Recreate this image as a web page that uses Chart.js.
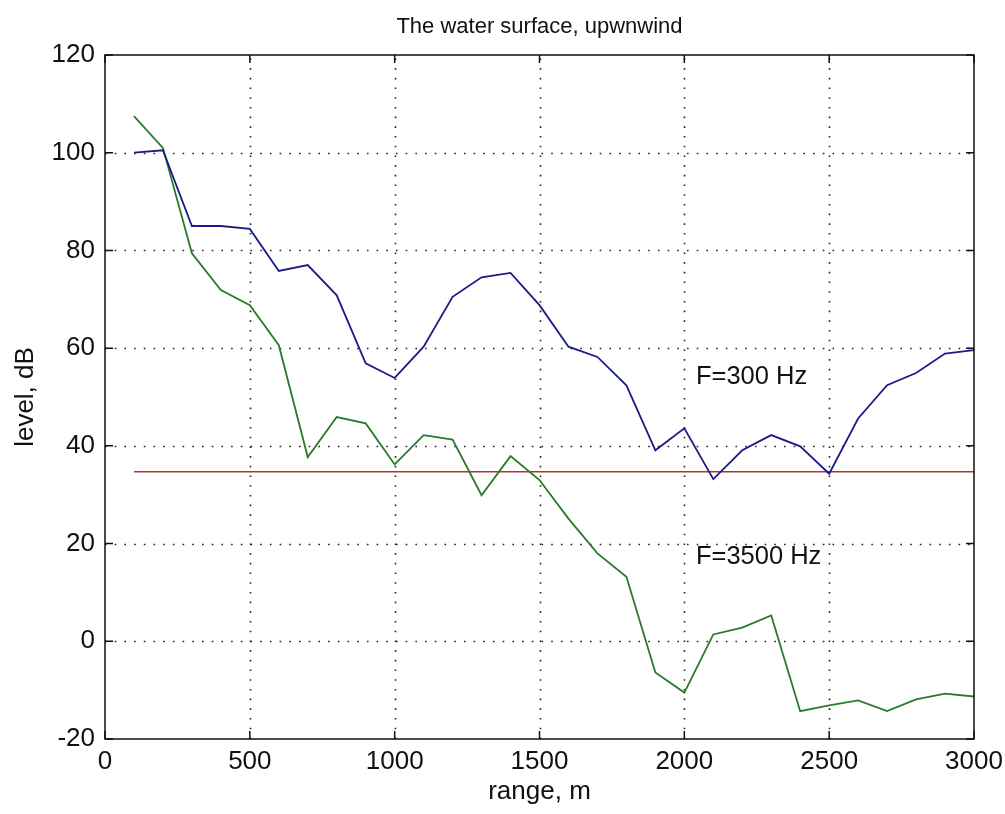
<!DOCTYPE html>
<html>
<head>
<meta charset="utf-8">
<title>The water surface, upwnwind</title>
<script src="https://cdn.jsdelivr.net/npm/chart.js@4.4.1/dist/chart.umd.min.js"></script>
<style>
  html, body { margin: 0; padding: 0; background: #fff; }
  canvas { display: block; }
</style>
</head>
<body>
<canvas id="levelChart" width="1005" height="814"></canvas>
<script>
// range along the surface, m
const rangeM = [100, 200, 300, 400, 500, 600, 700, 800, 900, 1000,
  1100, 1200, 1300, 1400, 1500, 1600, 1700, 1800, 1900, 2000,
  2100, 2200, 2300, 2400, 2500, 2600, 2700, 2800, 2900, 3000];

// level at 300 Hz, dB
const level300 = [100, 100.5, 85, 85, 84.4, 75.8, 77, 70.8, 56.9, 53.9,
  60.3, 70.5, 74.5, 75.4, 68.8, 60.3, 58.2, 52.4, 39.1, 43.6,
  33.2, 39.1, 42.2, 39.9, 34.3, 45.6, 52.4, 54.9, 58.9, 59.6];

// level at 3500 Hz, dB
const level3500 = [107.5, 101, 79.4, 71.9, 68.8, 60.6, 37.7, 45.9, 44.6, 36.2,
  42.2, 41.3, 29.9, 37.9, 33, 25.1, 18, 13.2, -6.4, -10.5,
  1.4, 2.8, 5.3, -14.3, -13.1, -12.1, -14.3, -11.9, -10.7, -11.3];

// threshold level, dB
const thresholdRange = [100, 3000];
const thresholdLevel = [34.7, 34.7];

// curve captions: [range, level, text]
const captions = [
  [2040, 54.2, "F=300 Hz"],
  [2040, 17.2, "F=3500 Hz"]
];

const FONT = '"Liberation Sans Narrow", "Arial Narrow", "Liberation Sans", sans-serif';

const toPoints = (xs, ys) => xs.map((x, i) => ({ x: x, y: ys[i] }));

// grid, box, inward ticks and captions in MATLAB style
const matlabAxes = {
  id: "matlabAxes",
  beforeDatasetsDraw(chart) {
    const { ctx, chartArea: a, scales: { x, y } } = chart;
    ctx.save();
    ctx.strokeStyle = "#222";
    ctx.lineWidth = 1.6;
    ctx.setLineDash([1.6, 8.1]);
    x.ticks.forEach((t) => {
      const px = Math.round(x.getPixelForValue(t.value)) + 0.5;
      if (px <= a.left + 2 || px >= a.right - 2) return;
      ctx.beginPath();
      ctx.moveTo(px, a.bottom);
      ctx.lineTo(px, a.top);
      ctx.stroke();
    });
    y.ticks.forEach((t) => {
      const py = Math.round(y.getPixelForValue(t.value)) + 0.5;
      if (py <= a.top + 2 || py >= a.bottom - 2) return;
      ctx.beginPath();
      ctx.moveTo(a.left, py);
      ctx.lineTo(a.right, py);
      ctx.stroke();
    });
    ctx.restore();
  },
  afterDatasetsDraw(chart) {
    const { ctx, chartArea: a, scales: { x, y } } = chart;
    ctx.save();
    ctx.strokeStyle = "#111";
    ctx.lineWidth = 1.5;
    ctx.strokeRect(a.left, a.top, a.right - a.left, a.bottom - a.top);

    const tick = 8;
    ctx.beginPath();
    x.ticks.forEach((t) => {
      const px = x.getPixelForValue(t.value);
      ctx.moveTo(px, a.bottom); ctx.lineTo(px, a.bottom - tick);
      ctx.moveTo(px, a.top); ctx.lineTo(px, a.top + tick);
    });
    y.ticks.forEach((t) => {
      const py = y.getPixelForValue(t.value);
      ctx.moveTo(a.left, py); ctx.lineTo(a.left + tick, py);
      ctx.moveTo(a.right, py); ctx.lineTo(a.right - tick, py);
    });
    ctx.stroke();

    ctx.fillStyle = "#111";
    ctx.font = "25.5px " + FONT;
    ctx.textAlign = "left";
    ctx.textBaseline = "middle";
    captions.forEach(([cx, cy, text]) => {
      ctx.fillText(text, x.getPixelForValue(cx), y.getPixelForValue(cy));
    });
    ctx.restore();
  }
};

new Chart(document.getElementById("levelChart"), {
  type: "line",
  data: {
    datasets: [
      {
        label: "F=300 Hz",
        data: toPoints(rangeM, level300),
        borderColor: "#1c1c86",
        borderWidth: 1.8,
        pointRadius: 0,
        tension: 0,
      },
      {
        label: "F=3500 Hz",
        data: toPoints(rangeM, level3500),
        borderColor: "#2b7a2b",
        borderWidth: 1.8,
        pointRadius: 0,
        tension: 0,
      },
      {
        label: "threshold",
        data: toPoints(thresholdRange, thresholdLevel),
        borderColor: "#b8302c",
        borderWidth: 1.6,
        pointRadius: 0,
      },
    ],
  },
  options: {
    responsive: false,
    animation: false,
    layout: { padding: { left: 10, right: 31, top: 0, bottom: 0 } },
    scales: {
      x: {
        type: "linear",
        min: 0,
        max: 3000,
        ticks: {
          stepSize: 500,
          color: "#111",
          font: { family: FONT, size: 26 },
          padding: 7,
          maxRotation: 0,
          callback: (v) => String(v),
        },
        grid: { display: false, drawTicks: false },
        border: { display: false },
        title: {
          display: true,
          text: "range, m",
          color: "#111",
          font: { family: FONT, size: 26 },
          padding: { top: 0, bottom: 7 },
        },
        afterFit: (s) => {
          s.height = 75;
          s.paddingLeft = 0;
          s.paddingRight = 0;
        },
      },
      y: {
        min: -20,
        max: 120,
        ticks: {
          stepSize: 20,
          color: "#111",
          font: { family: FONT, size: 26 },
          padding: 10,
          callback: (v) => String(v),
        },
        grid: { display: false, drawTicks: false },
        border: { display: false },
        title: {
          display: true,
          text: "level, dB",
          color: "#111",
          font: { family: FONT, size: 26 },
          padding: { top: 0, bottom: 6 },
        },
        afterFit: (s) => {
          s.width = 95;
          s.paddingTop = 0;
          s.paddingBottom = 0;
        },
      },
    },
    plugins: {
      legend: { display: false },
      tooltip: { enabled: false },
      title: {
        display: true,
        fullSize: false,
        text: "The water surface, upwnwind",
        color: "#111",
        font: { family: FONT, size: 22, weight: "normal" },
        padding: { top: 14, bottom: 14.6 },
      },
    },
  },
  plugins: [matlabAxes],
});
</script>
</body>
</html>
